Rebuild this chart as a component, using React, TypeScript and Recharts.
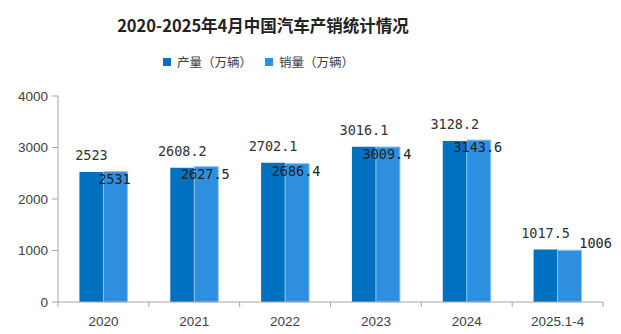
import React from 'react';
import { BarChart, Bar, XAxis, YAxis, LabelList } from 'recharts';

const categories = ['2020', '2021', '2022', '2023', '2024', '2025.1-4'];
const production = [2523, 2608.2, 2702.1, 3016.1, 3128.2, 1017.5];
const sales = [2531, 2627.5, 2686.4, 3009.4, 3143.6, 1006];
const yTicks = [0, 1000, 2000, 3000, 4000];
const seriesNames = ['产量（万辆）', '销量（万辆）'];
const title = '2020-2025年4月中国汽车产销统计情况';

const data = categories.map((c, i) => ({ name: c, production: production[i], sales: sales[i] }));

const DARK = '#0070C0';
const LIGHT = '#2E8FE0';
const AXIS = '#A6A6A6';
const LABEL_FONT = '"DejaVu Sans Mono", monospace';
const TICK_FONT = '"Liberation Sans", Arial, sans-serif';

const ProdLabel = (props: any) => {
  const { x, y, width, value } = props;
  return (
    <text x={x + width / 2} y={y - 17} textAnchor="middle" dominantBaseline="central"
      fontFamily={LABEL_FONT} fontSize={13.5} fill="#333">{value}</text>
  );
};

const SalesLabel = (props: any) => {
  const { x, y, width, value, index } = props;
  const last = index === categories.length - 1;
  const cx = last ? x + width + 14 : x + width / 2 - 1;
  const cy = last ? y - 7 : y + 7;
  return (
    <text x={cx} y={cy} textAnchor="middle" dominantBaseline="central"
      fontFamily={LABEL_FONT} fontSize={13.5} fill="#222">{value}</text>
  );
};

const XTick = (props: any) => {
  const { x, y, payload, index, width } = props;
  const band = width / categories.length;
  return (
    <g>
      <line x1={x + band / 2} x2={x + band / 2} y1={y} y2={y + 5} stroke={AXIS} />
      {index === 0 && <line x1={x - band / 2} x2={x - band / 2} y1={y} y2={y + 5} stroke={AXIS} />}
      <text x={x} y={y + 19} textAnchor="middle" dominantBaseline="central"
        fontFamily={TICK_FONT} fontSize={13.5} fill="#404040">{payload.value}</text>
    </g>
  );
};

const LegendBox = () => (
  <div style={{ position: 'absolute', top: 52, left: 163, display: 'flex', alignItems: 'center',
    fontFamily: '"Noto Sans CJK SC", sans-serif', fontSize: 12.5, color: '#404040', whiteSpace: 'nowrap' }}>
    <span style={{ display: 'inline-block', width: 8, height: 8, background: DARK, marginRight: 6 }} />
    <span style={{ marginRight: 13 }}>{seriesNames[0]}</span>
    <span style={{ display: 'inline-block', width: 8, height: 8, background: LIGHT, marginRight: 6 }} />
    <span>{seriesNames[1]}</span>
  </div>
);

export default function App() {
  return (
    <div style={{ position: 'absolute', left: 0, top: 0, width: 621, height: 334, background: '#fff' }}>
      <div style={{ position: 'absolute', top: 13, left: 0, width: 526, textAlign: 'center',
        fontFamily: '"Noto Sans CJK SC", sans-serif', fontWeight: 700, fontSize: 16.5, color: '#222',
        lineHeight: '24px' }}>{title}</div>
      <LegendBox />
      <div style={{ position: 'absolute', left: 0, top: 0 }}>
        <BarChart width={621} height={334} data={data}
          margin={{ top: 96, right: 18, left: 0, bottom: 2 }}
          barCategoryGap="23.6%" barGap={0}>
          <XAxis dataKey="name" height={30} tickSize={0} tickMargin={0} tickLine={false}
            axisLine={{ stroke: AXIS }} tick={<XTick />} interval={0} />
          <YAxis width={58} domain={[0, 4000]} ticks={yTicks} tickSize={6} tickMargin={4}
            axisLine={{ stroke: AXIS }} tickLine={{ stroke: AXIS }}
            tick={{ fontFamily: TICK_FONT, fontSize: 13.5, fill: '#404040' }} />
          <Bar dataKey="production" fill={DARK} isAnimationActive={false}>
            <LabelList dataKey="production" content={<ProdLabel />} />
          </Bar>
          <Bar dataKey="sales" fill={LIGHT} stroke="#8CC4F0" strokeWidth={1} isAnimationActive={false}>
            <LabelList dataKey="sales" content={<SalesLabel />} />
          </Bar>
        </BarChart>
      </div>
    </div>
  );
}
